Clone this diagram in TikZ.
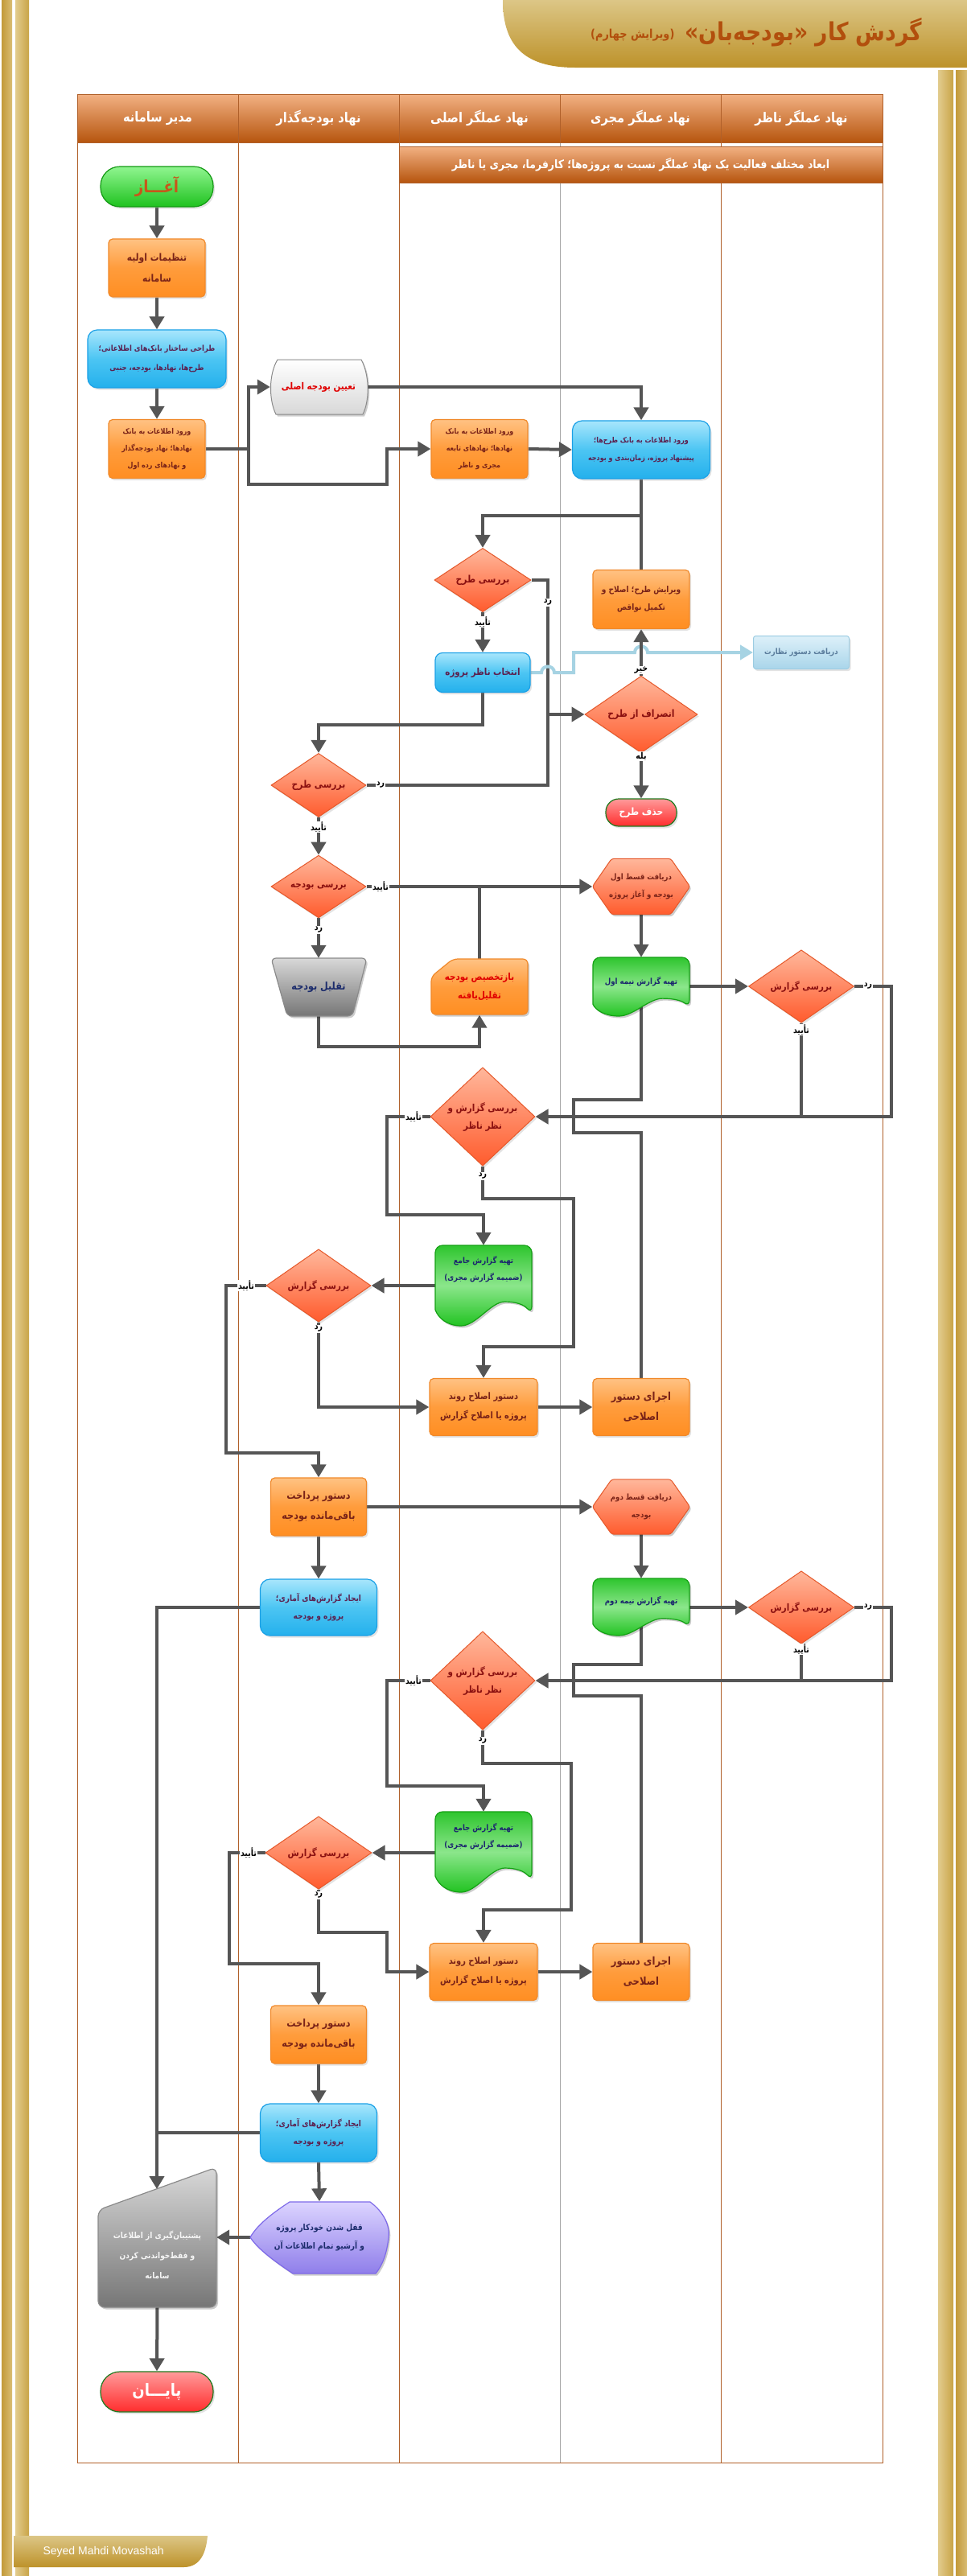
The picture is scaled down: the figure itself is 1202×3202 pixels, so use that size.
\documentclass[tikz,border=0pt]{standalone}
\usepackage{fontspec}
\usetikzlibrary{arrows.meta,shapes.geometric,shadows,calc}
\TeXXeTstate=1
\newfontfamily\fafont[Script=Arabic,FakeStretch=0.86]{DejaVu Sans}
\newfontfamily\latfont{Liberation Sans}
\newcommand{\fa}[1]{\beginR#1\endR}
\pgfdeclarelayer{lanes}
\pgfdeclarelayer{conn}
\pgfdeclarelayer{shapes}
\pgfsetlayers{lanes,conn,shapes,main}
\definecolor{laneC}{HTML}{B0602A}
\definecolor{hdT}{HTML}{F2B183}
\definecolor{hdB}{HTML}{B6550E}
\definecolor{orT}{HTML}{FFC283}
\definecolor{orM}{HTML}{FF9C3C}
\definecolor{orBt}{HTML}{FF8E22}
\definecolor{orB}{HTML}{F0892A}
\definecolor{blT}{HTML}{A8E6FC}
\definecolor{blM}{HTML}{4CC5F3}
\definecolor{blBt}{HTML}{24B0EC}
\definecolor{blB}{HTML}{1AA0E6}
\definecolor{diT}{HTML}{FFB79B}
\definecolor{diBt}{HTML}{FF5B2D}
\definecolor{diB}{HTML}{E5582A}
\definecolor{grT}{HTML}{2EC52E}
\definecolor{grM}{HTML}{8BE68B}
\definecolor{grBt}{HTML}{22C322}
\definecolor{grB}{HTML}{14A014}
\definecolor{gyT}{HTML}{D8D8D8}
\definecolor{gyB}{HTML}{767676}
\definecolor{gyBd}{HTML}{8A8A8A}
\definecolor{puT}{HTML}{DCD4FF}
\definecolor{puB}{HTML}{8F7EEA}
\definecolor{puBd}{HTML}{7E6AE8}
\definecolor{stT}{HTML}{90F590}
\definecolor{stB}{HTML}{1FC21F}
\definecolor{stBd}{HTML}{139913}
\definecolor{enT}{HTML}{FF9A9A}
\definecolor{enB}{HTML}{FF2D2D}
\definecolor{enBd}{HTML}{1F7A1F}
\definecolor{lbT}{HTML}{DDF0F9}
\definecolor{lbB}{HTML}{A9D5EA}
\definecolor{lbBd}{HTML}{9CCCE2}
\definecolor{lbC}{HTML}{A6D3E3}
\definecolor{lnC}{HTML}{555555}
\definecolor{titleC}{HTML}{B24F0D}
\definecolor{tOr}{HTML}{7A2318}
\definecolor{tBl}{HTML}{5B2150}
\definecolor{tDi}{HTML}{8A1010}
\definecolor{tGr}{HTML}{1B256E}
\definecolor{tRed}{HTML}{E00000}
\definecolor{tNavy}{HTML}{1C2C6C}
\definecolor{tRecv}{HTML}{5A7C9C}
\definecolor{startC}{HTML}{C8561A}
\definecolor{goldA}{HTML}{C39A3A}
\definecolor{goldB}{HTML}{D9BD74}
\definecolor{goldC}{HTML}{E2CC8E}
\definecolor{goldD}{HTML}{C9A447}
\definecolor{banT}{HTML}{DCC686}
\definecolor{banB}{HTML}{BD922A}
\newcommand{\docshape}[5]{%
\path[#1] (#2,{#5-0.2*(#5-#3)}) [rounded corners=9pt] -- (#2,#3) -- (#4,#3) -- (#4,{#5-0.15*(#5-#3)}) [sharp corners]
 .. controls ({#4-0.08*(#4-#2)},{#5-0.26*(#5-#3)}) and ({#2+0.84*(#4-#2)},{#5-0.3*(#5-#3)}) .. ({#2+0.72*(#4-#2)},{#5-0.3*(#5-#3)})
 .. controls ({#2+0.58*(#4-#2)},{#5-0.3*(#5-#3)}) and ({#2+0.42*(#4-#2)},#5) .. ({#2+0.27*(#4-#2)},#5)
 .. controls ({#2+0.12*(#4-#2)},#5) and ({#2+0.03*(#4-#2)},{#5-0.1*(#5-#3)}) .. (#2,{#5-0.2*(#5-#3)}) -- cycle;}
\newcommand{\hexat}[1]{\path[hexsty,pshd] (#1.west) -- ($(#1.north west)+(24,0)$) -- ($(#1.north east)+(-24,0)$) -- (#1.east) -- ($(#1.south east)+(-24,0)$) -- ($(#1.south west)+(24,0)$) -- cycle;}
\begin{document}
\begin{tikzpicture}[x=1pt,y=-1pt,
  base/.style={align=center,inner sep=2pt,font=\fafont\bfseries\fontsize{10}{20}\selectfont},
  fs/.style 2 args={font=\fafont\bfseries\fontsize{#1}{#2}\selectfont},
  shd/.style={drop shadow={opacity=0.22,shadow xshift=2pt,shadow yshift=-2.5pt}},
  pshd/.style={preaction={draw=none,fill=black,fill opacity=0.2,transform canvas={shift={(2pt,-2.5pt)}}}},
  obox/.style={base,shd,rectangle,rounded corners=5pt,draw=orB,line width=1.2pt,top color=orT,bottom color=orBt,middle color=orM,text=tOr},
  bluebox/.style={base,shd,rectangle,rounded corners=12pt,draw=blB,line width=1.2pt,top color=blT,bottom color=blBt,middle color=blM,text=tBl},
  dia/.style={base,shd,diamond,inner sep=0pt,draw=diB,line width=1pt,top color=diT,bottom color=diBt,text=tDi},
  pill/.style={base,shd,rectangle,line width=1.2pt},
  txt/.style={base,rectangle},
  lab/.style={fill=white,inner sep=1pt,font=\fafont\bfseries\fontsize{11}{12}\selectfont,text=black},
  cline/.style={draw=lnC,line width=4pt,line join=miter},
  arr/.style={cline,-{Triangle[length=16pt,width=18pt]}},
  lbline/.style={draw=lbC,line width=4pt,line join=miter,-{Triangle[length=16pt,width=18pt]}},
  hdr/.style={draw=laneC,line width=0.8pt,top color=hdT,bottom color=hdB},
  hdrtxt/.style={text=white,font=\fafont\bfseries\fontsize{17}{19}\selectfont},
  hexsty/.style={draw=diB,line width=1pt,top color=diT,bottom color=diBt,rounded corners=3pt},
  gdocsty/.style={draw=grB,line width=1.2pt,top color=grT,bottom color=grBt,middle color=grM,pshd},
  orsty/.style={draw=orB,line width=1.2pt,top color=orT,bottom color=orBt,middle color=orM},
  graysty/.style={draw=gyBd,line width=1.2pt,top color=gyT,bottom color=gyB},
]
\useasboundingbox (0,0) rectangle (1202,3202);
% ---------- frame, banners, lanes ----------
\begin{pgfonlayer}{lanes}
\fill[left color=goldA,right color=goldB] (2,0) rectangle (15,3202);
\fill[left color=goldC,right color=goldD] (19,0) rectangle (36,3202);
\fill[left color=goldC,right color=goldD] (1166,87) rectangle (1185,3202);
\fill[left color=goldA,right color=goldB] (1188,87) rectangle (1202,3202);
\shade[top color=banT,bottom color=banB] (625,0) .. controls (625,55) and (650,84) .. (715,84) -- (1202,84) -- (1202,0) -- cycle;
\shade[top color=banT,bottom color=banB] (17,3152) -- (258,3152) .. controls (256,3175) and (248,3191) .. (228,3191) -- (17,3191) -- cycle;
\draw[laneC,line width=1pt] (96,117) -- (96,3061) -- (1097,3061) -- (1097,117);
\foreach \x in {296,496,896} \draw[laneC,line width=0.8pt] (\x,117) -- (\x,3061);
\draw[gray!70,line width=0.6pt] (696,117) -- (696,3061);
\foreach \a/\b in {96/296,296/496,496/696,696/896,896/1097} \path[hdr] (\a,117) rectangle (\b,177);
\path[hdr] (496,182) rectangle (1097,227);
\end{pgfonlayer}
\node[anchor=east,text=titleC,font=\fafont\bfseries\fontsize{31}{33}\selectfont] (title) at (1150,40) {\fa{گردش کار «بودجه‌بان»}};
\node[anchor=east,text=titleC,font=\fafont\bfseries\fontsize{15}{17}\selectfont] (subtitle) at ([xshift=-6pt,yshift=-4pt]title.west) {\fa{(ویرایش چهارم)}};
\node[anchor=west,text=white,font=\latfont\fontsize{14}{16}\selectfont] (foot) at (50,3172) {Seyed Mahdi Movashah};
\node[hdrtxt] (h1) at (196,147) {\fa{مدیر سامانه}};
\node[hdrtxt] (h2) at (396,147) {\fa{نهاد بودجه‌گذار}};
\node[hdrtxt] (h3) at (596,147) {\fa{نهاد عملگر اصلی}};
\node[hdrtxt] (h4) at (796,147) {\fa{نهاد عملگر مجری}};
\node[hdrtxt] (h5) at (996,147) {\fa{نهاد عملگر ناظر}};
\node[text=white,font=\fafont\bfseries\fontsize{14.5}{16}\selectfont] (sub) at (796.5,204.5) {\fa{ابعاد مختلف فعالیت یک نهاد عملگر نسبت به پروژه‌ها؛ کارفرما، مجری یا ناظر}};
% ---------- nodes ----------
\node[pill,rounded corners=24pt,minimum width=140pt,minimum height=50pt,draw=stBd,top color=stT,bottom color=stB,text=startC,fs={21}{24}] (start) at (195,232) {\fa{آغـــاز}};
\node[obox,minimum width=120pt,minimum height=72pt,fs={12.5}{26}] (n1) at (195,333) {\fa{تنظیمات اولیه}\\\fa{سامانه}};
\node[bluebox,minimum width=172pt,minimum height=72pt,fs={9.8}{24}] (n2) at (195,446) {\fa{طراحی ساختار بانک‌های اطلاعاتی؛}\\\fa{طرح‌ها، نهادها، بودجه، جنبی}};
\node[obox,minimum width=120pt,minimum height=73pt,fs={9.3}{21}] (n3) at (195,558) {\fa{ورود اطلاعات به بانک}\\\fa{نهادها؛ نهاد بودجه‌گذار}\\\fa{و نهادهای رده اول}};
\node[txt,minimum width=120pt,minimum height=68pt,text=tRed,fs={12}{14}] (budget) at (396,481) {\fa{تعیین بودجه اصلی}};
\node[obox,minimum width=120pt,minimum height=73pt,fs={9.3}{21}] (n4) at (596,558) {\fa{ورود اطلاعات به بانک}\\\fa{نهادها؛ نهادهای تابعه}\\\fa{مجری و ناظر}};
\node[bluebox,minimum width=171pt,minimum height=72pt,fs={9.3}{22}] (n5) at (797,559) {\fa{ورود اطلاعات به بانک طرح‌ها؛}\\\fa{پیشنهاد پروژه، زمان‌بندی و بودجه}};
\node[dia,minimum width=120pt,minimum height=68pt,fs={12.5}{14}] (d1) at (600,721) {\fa{بررسی طرح}};
\node[obox,minimum width=120pt,minimum height=73pt,fs={10.5}{22}] (edit) at (797,745) {\fa{ویرایش طرح؛ اصلاح و}\\\fa{تکمیل نواقص}};
\node[bluebox,rounded corners=9pt,minimum width=118pt,minimum height=49pt,fs={12}{14}] (sel) at (600,836) {\fa{انتخاب ناظر پروژه}};
\node[base,shd,rectangle,rounded corners=3pt,draw=lbBd,line width=1pt,top color=lbT,bottom color=lbB,text=tRecv,fs={10}{12},minimum width=119pt,minimum height=41pt] (recv) at (996,811) {\fa{دریافت دستور نظارت}};
\node[dia,minimum width=140pt,minimum height=68pt,fs={12.5}{14}] (dq) at (797,888) {\fa{انصراف از طرح}};
\node[pill,rounded corners=16pt,minimum width=88pt,minimum height=34pt,draw=enBd,top color=enT,bottom color=enB,text=white,fs={12.5}{14}] (del) at (797,1010) {\fa{حذف طرح}};
\node[dia,minimum width=118pt,minimum height=68pt,fs={12.5}{14}] (d2) at (396,976) {\fa{بررسی طرح}};
\node[dia,minimum width=118pt,minimum height=68pt,fs={12}{14}] (d3) at (396,1102) {\fa{بررسی بودجه}};
\node[txt,minimum width=121pt,minimum height=69pt,text=tOr,fs={10}{22}] (q1) at (797,1102) {\fa{دریافت قسط اول}\\\fa{بودجه و آغاز پروژه}};
\node[txt,minimum width=119pt,minimum height=72pt,text=tNavy,fs={13}{14}] (cut) at (396,1227) {\fa{تقلیل بودجه}};
\node[txt,minimum width=120pt,minimum height=69pt,text=tRed,fs={12}{23}] (realloc) at (596,1227) {\fa{بازتخصیص بودجه}\\\fa{تقلیل‌یافته}};
\node[txt,minimum width=120pt,minimum height=60pt,text=tGr,fs={10}{14}] (r1) at (797,1220) {\fa{تهیه گزارش نیمه اول}};
\node[dia,minimum width=131pt,minimum height=68pt,fs={12}{14}] (d4) at (996,1226) {\fa{بررسی گزارش}};
\node[dia,minimum width=130pt,minimum height=111pt,fs={12}{22}] (d5) at (600,1388) {\fa{بررسی گزارش و}\\\fa{نظر ناظر}};
\node[txt,minimum width=120pt,minimum height=60pt,text=tGr,fs={10}{21}] (g1) at (601,1578) {\fa{تهیه گزارش جامع}\\\fa{(ضمیمه گزارش مجری)}};
\node[dia,minimum width=130pt,minimum height=69pt,fs={12}{14}] (d6) at (396,1598) {\fa{بررسی گزارش}};
\node[obox,minimum width=134pt,minimum height=71pt,fs={11.5}{24}] (c1) at (601,1749) {\fa{دستور اصلاح روند}\\\fa{پروژه یا اصلاح گزارش}};
\node[obox,minimum width=120pt,minimum height=71pt,fs={13.5}{25}] (e1) at (797,1749) {\fa{اجرای دستور}\\\fa{اصلاحی}};
\node[obox,minimum width=119pt,minimum height=72pt,fs={13}{25}] (p1) at (396,1873) {\fa{دستور پرداخت}\\\fa{باقی‌مانده بودجه}};
\node[txt,minimum width=121pt,minimum height=68pt,text=tOr,fs={10}{22}] (q2) at (797,1873) {\fa{دریافت قسط دوم}\\\fa{بودجه}};
\node[bluebox,minimum width=145pt,minimum height=70pt,fs={10.5}{22}] (s1) at (396,1998) {\fa{ایجاد گزارش‌های آماری؛}\\\fa{پروژه و بودجه}};
\node[txt,minimum width=120pt,minimum height=56pt,text=tGr,fs={10}{14}] (r2) at (797,1990) {\fa{تهیه گزارش نیمه دوم}};
\node[dia,minimum width=131pt,minimum height=69pt,fs={12}{14}] (d7) at (996,1998) {\fa{بررسی گزارش}};
\node[dia,minimum width=130pt,minimum height=110pt,fs={12}{22}] (d8) at (600,2089) {\fa{بررسی گزارش و}\\\fa{نظر ناظر}};
\node[txt,minimum width=120pt,minimum height=62pt,text=tGr,fs={10}{21}] (g2) at (601,2283) {\fa{تهیه گزارش جامع}\\\fa{(ضمیمه گزارش مجری)}};
\node[dia,minimum width=132pt,minimum height=69pt,fs={12}{14}] (d9) at (396,2303) {\fa{بررسی گزارش}};
\node[obox,minimum width=134pt,minimum height=71pt,fs={11.5}{24}] (c2) at (601,2451) {\fa{دستور اصلاح روند}\\\fa{پروژه یا اصلاح گزارش}};
\node[obox,minimum width=120pt,minimum height=71pt,fs={13.5}{25}] (e2) at (797,2451) {\fa{اجرای دستور}\\\fa{اصلاحی}};
\node[obox,minimum width=119pt,minimum height=72pt,fs={13}{25}] (p2) at (396,2529) {\fa{دستور پرداخت}\\\fa{باقی‌مانده بودجه}};
\node[bluebox,minimum width=145pt,minimum height=72pt,fs={10.5}{22}] (s2) at (396,2651) {\fa{ایجاد گزارش‌های آماری؛}\\\fa{پروژه و بودجه}};
\node[txt,minimum width=172pt,minimum height=89pt,text=tNavy,fs={10.5}{23}] (lock) at (397,2781) {\fa{قفل شدن خودکار پروژه}\\\fa{و آرشیو تمام اطلاعات آن}};
\node[txt,minimum width=147pt,minimum height=130pt,text=white!92!gray,fs={10.5}{25}] (bk) at (195.5,2803) {\fa{پشتیبان‌گیری از اطلاعات}\\\fa{و فقط‌خواندنی کردن}\\\fa{سامانه}};
\coordinate (bktop) at (195,2721);
\node[pill,rounded corners=24pt,minimum width=140pt,minimum height=50pt,draw=enBd,top color=enT,bottom color=enB,text=white,fs={21}{24}] (end) at (195,2973) {\fa{پایـــان}};
% ---------- custom shapes ----------
\begin{pgfonlayer}{shapes}
\path[draw=gyBd,line width=1pt,top color=white,bottom color=gyT,pshd] (345,447) -- (449,447) .. controls (459,465) and (460,497) .. (451,515) -- (343,515) .. controls (334,497) and (334,465) .. (345,447) -- cycle;
\hexat{q1}
\hexat{q2}
\path[graysty,pshd,rounded corners=6pt] (337,1191) -- (456,1191) -- (438,1263) -- (357,1263) -- cycle;
\path[orsty,pshd,rounded corners=6pt] (563,1192) -- (656,1192) -- (656,1261) -- (536,1261) -- (536,1214) -- cycle;
\docshape{gdocsty}{737}{1190}{857}{1263}
\docshape{gdocsty}{737}{1962}{857}{2033}
\docshape{gdocsty}{541}{1548}{661}{1648}
\docshape{gdocsty}{541}{2252}{661}{2352}
\path[draw=puBd,line width=1.2pt,top color=puT,bottom color=puB,pshd] (360,2737) -- (460,2737) .. controls (478,2750) and (485,2768) .. (483,2781) .. controls (481,2800) and (476,2815) .. (467,2826) -- (364,2826) .. controls (340,2810) and (320,2795) .. (311,2781) .. controls (320,2765) and (340,2750) .. (360,2737) -- cycle;
\path[graysty,pshd,rounded corners=8pt] (122,2747) -- (269,2694) -- (269,2868) -- (122,2868) -- cycle;
\end{pgfonlayer}
% ---------- connectors ----------
\begin{pgfonlayer}{conn}
\draw[arr] (start.south) -- (n1.north);
\draw[arr] (n1.south) -- (n2.north);
\draw[arr] (n2.south) -- (n3.north);
\draw[arr] (n3.east) -- (309,558) |- (budget.west);
\draw[arr] (n3.east) -- (309,558) -- (309,602) -- (481,602) |- (n4.west);
\draw[arr] (n4.east) -- (n5.west);
\draw[arr] (budget.east) -| (n5.north);
\draw[arr] (n5.south) -- (797,641) -| (d1.north);
\draw[cline] (edit.north) -- (797,641);
\draw[arr] (d1.south) -- (sel.north);
\draw[arr] (d1.east) -- (681,721) |- (dq.west);
\draw[cline] (d2.east) -- (681,976) -- (681,888);
\draw[arr] (sel.south) -- (600,901) -| (d2.north);
\draw[lbline] (sel.east) -- (673,836) .. controls (673,826) and (689,826) .. (689,836) -- (713,836) -- (713,811) -- (789,811) .. controls (789,801) and (805,801) .. (805,811) -- (recv.west);
\draw[arr] (dq.north) -- (edit.south);
\draw[arr] (dq.south) -- (del.north);
\draw[arr] (d2.south) -- (d3.north);
\draw[arr] (d3.east) -- (q1.west);
\draw[arr] (d3.south) -- (cut.north);
\draw[arr] (cut.south) -- (396,1301) -| (realloc.south);
\draw[cline] (realloc.north) -- (realloc.north |- d3.east);
\draw[arr] (q1.south) -- (r1.north);
\draw[arr] (r1.east |- d4.west) -- (d4.west);
\draw[arr] (d4.east) -- (1108,1226) |- (d5.east);
\draw[cline] (d4.south) -- (d4.south |- d5.east);
\draw[cline] (r1.center) -- (797,1367) -- (713,1367) -- (713,1408) -- (797,1408) -- (e1.north);
\draw[arr] (d5.west) -- (481,1388) -- (481,1510) -| (g1.north);
\draw[arr] (d5.south) -- (600,1490) -- (713,1490) -- (713,1674) -| (c1.north);
\draw[arr] (g1.west |- d6.east) -- (d6.east);
\draw[arr] (d6.west) -- (281,1598) -- (281,1806) -| (p1.north);
\draw[arr] (d6.south) |- (c1.west);
\draw[arr] (c1.east) -- (e1.west);
\draw[arr] (p1.east) -- (q2.west);
\draw[arr] (p1.south) -- (s1.north);
\draw[arr] (q2.south) -- (r2.north);
\draw[arr] (r2.east |- d7.west) -- (d7.west);
\draw[arr] (d7.east) -- (1108,1998) |- (d8.east);
\draw[cline] (d7.south) -- (d7.south |- d8.east);
\draw[cline] (r2.center) -- (797,2069) -- (713,2069) -- (713,2108) -- (797,2108) -- (e2.north);
\draw[arr] (d8.west) -- (481,2089) -- (481,2220) -| (g2.north);
\draw[arr] (d8.south) -- (600,2192) -- (710,2192) -- (710,2374) -| (c2.north);
\draw[arr] (g2.west |- d9.east) -- (d9.east);
\draw[arr] (d9.west) -- (285,2303) -- (285,2441) -| (p2.north);
\draw[arr] (d9.south) -- (396,2402) -- (481,2402) |- (c2.west);
\draw[arr] (c2.east) -- (e2.west);
\draw[arr] (p2.south) -- (s2.north);
\draw[arr] (s2.south) -- (lock.north);
\draw[arr] (s1.west) -- (195,1998) -- (bktop);
\draw[cline] (s2.west) -- (195,2651);
\draw[arr] (lock.west) -- (bk.east |- lock.west);
\draw[arr] (bk.south) -- (end.north);
\end{pgfonlayer}
% ---------- labels ----------
\node[lab] (l1) at (600,773) {\fa{تأیید}};
\node[lab] (l2) at (681,749) {\fa{رد}};
\node[lab] (l3) at (473,976) {\fa{رد}};
\node[lab] (l4) at (797,833) {\fa{خیر}};
\node[lab] (l5) at (797,940) {\fa{بله}};
\node[lab] (l6) at (396,1028) {\fa{تأیید}};
\node[lab] (l7) at (473,1102) {\fa{تأیید}};
\node[lab] (l8) at (396,1156) {\fa{رد}};
\node[lab] (l9) at (1079,1226) {\fa{رد}};
\node[lab] (l10) at (996,1280) {\fa{تأیید}};
\node[lab] (l11) at (514,1388) {\fa{تأیید}};
\node[lab] (l12) at (600,1462) {\fa{رد}};
\node[lab] (l13) at (306,1598) {\fa{تأیید}};
\node[lab] (l14) at (396,1652) {\fa{رد}};
\node[lab] (l15) at (1079,1998) {\fa{رد}};
\node[lab] (l16) at (996,2050) {\fa{تأیید}};
\node[lab] (l17) at (514,2089) {\fa{تأیید}};
\node[lab] (l18) at (600,2164) {\fa{رد}};
\node[lab] (l19) at (309,2303) {\fa{تأیید}};
\node[lab] (l20) at (396,2356) {\fa{رد}};
\end{tikzpicture}
\end{document}
